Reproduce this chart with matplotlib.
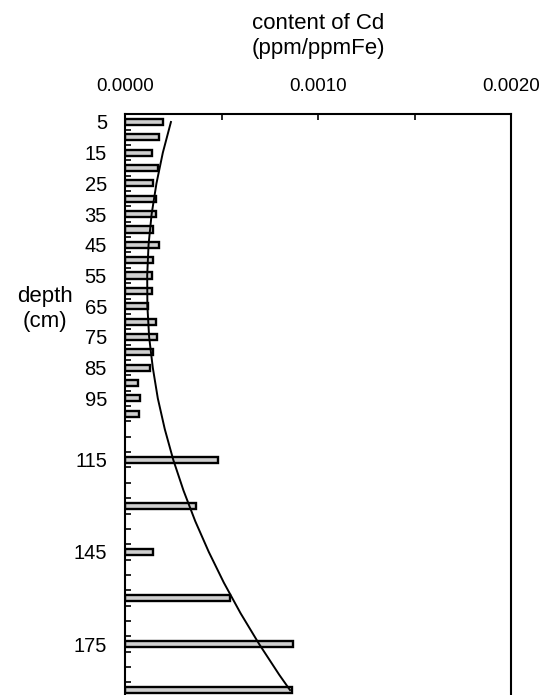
import matplotlib.pyplot as plt
from matplotlib.ticker import FixedLocator, NullFormatter

plt.rcParams['font.family'] = ['Liberation Sans', 'DejaVu Sans']

# depth of each sample (cm) and Cd content normalised by Fe
depth = [5, 10, 15, 20, 25, 30, 35, 40, 45, 50,
         55, 60, 65, 70, 75, 80, 85, 90, 95, 100,
         115, 130, 145, 160, 175, 190]
cd_fe = [0.000197, 0.000176, 0.000140, 0.000171, 0.000145, 0.000161, 0.000161, 0.000145, 0.000176, 0.000145,
         0.000140, 0.000140, 0.000119, 0.000161, 0.000166, 0.000145, 0.000130, 0.000067, 0.000078, 0.000073,
         0.000482, 0.000370, 0.000145, 0.000544, 0.000870, 0.000865]

# trend line read along the depth profile
trend_depth = [5, 15, 25, 35, 45, 55, 65, 75, 85, 95,
               105, 115, 125, 135, 145, 155, 165, 175, 185, 190]
trend_value = [0.000238, 0.000196, 0.000163, 0.000138, 0.000122, 0.000115, 0.000116, 0.000125, 0.000144, 0.000170,
               0.000206, 0.000250, 0.000303, 0.000364, 0.000434, 0.000512, 0.000599, 0.000695, 0.000799, 0.000855]

depth_labels = [5, 15, 25, 35, 45, 55, 65, 75, 85, 95, 115, 145, 175]
x_labels = [0.0, 0.001, 0.002]

fig = plt.figure(figsize=(5.53, 6.95), dpi=100)
ax = fig.add_axes([125 / 553, 0.0, 386 / 553, 1 - 114 / 695])

ax.barh(depth, cd_fe, height=2.0, color='#cfcfcf', edgecolor='black', linewidth=1.7)
ax.plot(trend_value, trend_depth, color='black', linewidth=1.4)

ax.set_xlim(0, 0.002)
ax.set_ylim(191.6, 2.4)

# x axis on top
ax.xaxis.tick_top()
ax.set_xticks(x_labels)
ax.set_xticklabels(['%.4f' % v for v in x_labels])
ax.xaxis.set_minor_locator(FixedLocator([0.0005, 0.0015]))
ax.tick_params(axis='x', which='both', direction='in', length=4, width=1.2, pad=14, labelsize=13.5)

# depth labels, ticks between samples
ax.set_yticks(depth_labels)
ax.set_yticklabels([str(d) for d in depth_labels])
ax.yaxis.set_minor_locator(FixedLocator([d + 2.5 for d in range(0, 191, 5)]))
ax.yaxis.set_minor_formatter(NullFormatter())
ax.tick_params(axis='y', which='major', length=0, pad=13, labelsize=14.5)
ax.tick_params(axis='y', which='minor', direction='in', length=4, width=1.2)

for s in ['left', 'top', 'right']:
    ax.spines[s].set_linewidth(1.5)
ax.spines['bottom'].set_visible(False)

fig.text(318 / 553, 1 - 36 / 695, 'content of Cd\n(ppm/ppmFe)', ha='center', va='center',
         fontsize=16, linespacing=1.25)
fig.text(45 / 553, 1 - 309 / 695, 'depth\n(cm)', ha='center', va='center',
         fontsize=16, linespacing=1.25)

plt.savefig('out.png', dpi=100)
